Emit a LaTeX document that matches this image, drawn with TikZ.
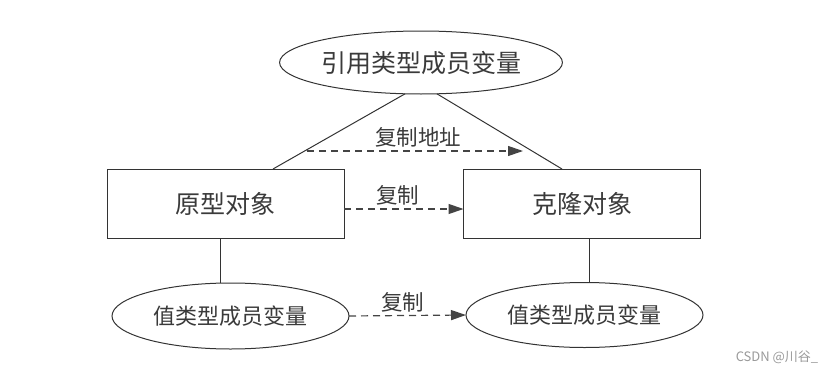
\documentclass[tikz,border=0pt]{standalone}
\usepackage{fontspec}
\newfontfamily\cjk{Noto Sans CJK SC}
\usetikzlibrary{shapes.geometric,arrows.meta,calc}
\definecolor{ink}{HTML}{333333}
\definecolor{txt}{HTML}{3A3A3A}
\definecolor{dash}{HTML}{444444}
\tikzset{
  box/.style={draw=ink, line width=1pt, rectangle, minimum width=237pt, minimum height=69pt, inner sep=0pt, outer sep=0pt, font=\cjk\fontsize{25}{28}\selectfont, text=txt},
  oval/.style={draw=ink, line width=1pt, ellipse, inner sep=0pt, outer sep=0pt, text=txt},
  link/.style={draw=ink, line width=1pt},
  copyarrow/.style={draw=dash, line width=1.2pt, dash pattern=on 7pt off 5pt, -{Triangle[length=15pt,width=10pt]}},
  lbl/.style={font=\cjk\fontsize{21.5}{24}\selectfont, text=txt, inner sep=0pt}
}
\begin{document}
\begin{tikzpicture}[x=1pt,y=-1pt]
\useasboundingbox (0,0) rectangle (833,372);
\node[oval, minimum width=238pt, minimum height=63pt, font=\cjk\fontsize{25}{28}\selectfont] (ref) at (421,62.5) {引用类型成员变量};
\node[box] (proto) at (225.5,203.5) {原型对象};
\node[box] (clone) at (582,203.5) {克隆对象};
\node[oval, minimum width=237pt, minimum height=66pt, font=\cjk\fontsize{22}{26}\selectfont] (val1) at (230.5,316) {值类型成员变量};
\node[oval, minimum width=237pt, minimum height=65pt, font=\cjk\fontsize{22}{26}\selectfont] (val2) at (584.5,315) {值类型成员变量};
% links
\draw[link] (ref.243) -- ($(proto.north)+(47.5,0)$);
\draw[link] (ref.297) -- ($(clone.north)+(-20,0)$);
\draw[link] ($(proto.south)+(-5.5,0)$) -- ($(val1.north)+(-10.5,0)$);
\draw[link] ($(clone.south)+(7,0)$) -- ($(val2.north)+(4.5,0)$);
% copy arrows
\coordinate (a1) at (307,151);
\coordinate (a2) at (523,151);
\draw[copyarrow] (a1) -- node[lbl, xshift=3pt, yshift=14pt] (l1) {复制地址} (a2);
\draw[copyarrow] ($(proto.east)+(0,5.5)$) -- node[lbl, xshift=-6pt, yshift=14pt] (l2) {复制} ($(clone.west)+(0,5.5)$);
\draw[copyarrow] (val1.east) -- node[lbl, xshift=-5pt, yshift=13pt] (l3) {复制} (val2.west);
% watermark
\node[font=\cjk\fontsize{13}{15}\selectfont, text=black!40, inner sep=0pt] (wm) at (777,357) {CSDN @川谷\_};
\end{tikzpicture}
\end{document}
